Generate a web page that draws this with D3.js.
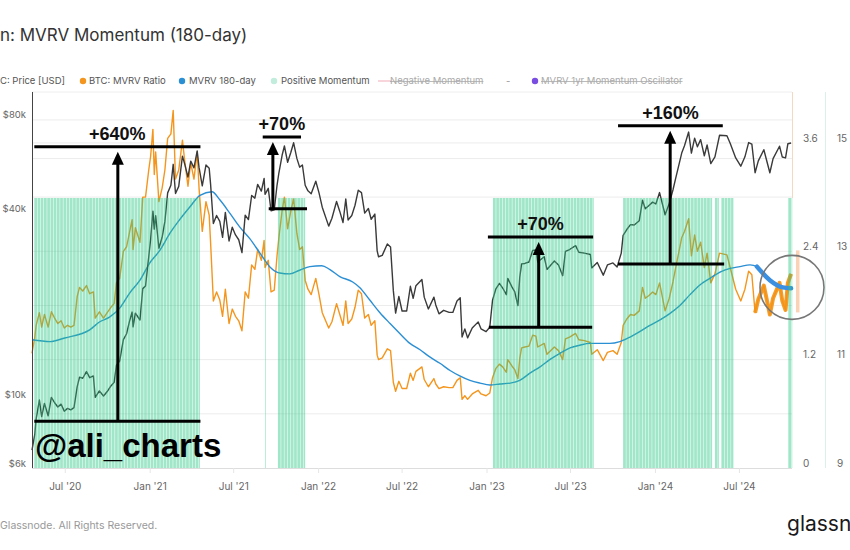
<!DOCTYPE html>
<html><head><meta charset="utf-8">
<script src="https://cdn.jsdelivr.net/npm/d3@7"></script>
<style>
body{margin:0;background:#fff;}
svg{display:block;font-family:Inter,"Noto Sans",sans-serif;}
</style>
</head><body>
<svg id="chart" width="850" height="550"></svg>
<script>
// ---------------- DATA ----------------
const seriesDates = [
"2020-04-21","2020-04-27","2020-04-30","2020-05-07","2020-05-12","2020-05-18","2020-05-26","2020-06-02","2020-06-09","2020-06-16",
"2020-06-23","2020-06-30","2020-07-07","2020-07-14","2020-07-21","2020-07-28","2020-08-02","2020-08-09","2020-08-17","2020-08-24",
"2020-09-01","2020-09-05","2020-09-14","2020-09-23","2020-10-01","2020-10-09","2020-10-16","2020-10-21","2020-10-28","2020-11-05",
"2020-11-12","2020-11-18","2020-11-24","2020-11-26","2020-12-01","2020-12-11","2020-12-17","2020-12-23","2020-12-30","2021-01-03",
"2021-01-08","2021-01-11","2021-01-14","2021-01-21","2021-01-28","2021-02-03","2021-02-09","2021-02-16","2021-02-21","2021-02-26",
"2021-03-05","2021-03-13","2021-03-18","2021-03-25","2021-03-31","2021-04-07","2021-04-14","2021-04-18","2021-04-25","2021-05-03",
"2021-05-10","2021-05-13","2021-05-19","2021-05-26","2021-06-02","2021-06-08","2021-06-14","2021-06-22","2021-06-29","2021-07-06",
"2021-07-13","2021-07-20","2021-07-27","2021-08-03","2021-08-10","2021-08-17","2021-08-23","2021-08-31","2021-09-06","2021-09-08",
"2021-09-15","2021-09-21","2021-09-28","2021-10-04","2021-10-08","2021-10-15","2021-10-20","2021-10-27","2021-11-03","2021-11-09",
"2021-11-16","2021-11-22","2021-11-28","2021-12-04","2021-12-10","2021-12-17","2021-12-27","2022-01-03","2022-01-10","2022-01-24",
"2022-01-31","2022-02-10","2022-02-17","2022-02-24","2022-03-02","2022-03-07","2022-03-15","2022-03-22","2022-03-29","2022-04-05",
"2022-04-12","2022-04-20","2022-04-26","2022-05-04","2022-05-09","2022-05-12","2022-05-20","2022-05-31","2022-06-07","2022-06-13",
"2022-06-18","2022-06-25","2022-07-02","2022-07-12","2022-07-20","2022-07-26","2022-08-01","2022-08-14","2022-08-19","2022-08-28",
"2022-09-09","2022-09-13","2022-09-20","2022-09-30","2022-10-12","2022-10-20","2022-10-29","2022-11-05","2022-11-09","2022-11-15",
"2022-11-21","2022-12-01","2022-12-14","2022-12-20","2022-12-31","2023-01-08","2023-01-14","2023-01-21","2023-01-29","2023-02-05",
"2023-02-13","2023-02-16","2023-02-25","2023-03-03","2023-03-10","2023-03-14","2023-03-18","2023-03-25","2023-04-03","2023-04-11",
"2023-04-18","2023-04-22","2023-05-06","2023-05-12","2023-05-28","2023-06-06","2023-06-15","2023-06-21","2023-06-30","2023-07-13",
"2023-07-20","2023-08-01","2023-08-14","2023-08-17","2023-08-29","2023-09-11","2023-09-20","2023-10-02","2023-10-11","2023-10-20",
"2023-10-24","2023-11-01","2023-11-09","2023-11-17","2023-11-28","2023-12-05","2023-12-11","2023-12-19","2023-12-27","2024-01-03",
"2024-01-11","2024-01-23","2024-02-01","2024-02-09","2024-02-15","2024-02-28","2024-03-05","2024-03-14","2024-03-20","2024-03-27",
"2024-04-02","2024-04-09","2024-04-17","2024-04-23","2024-05-01","2024-05-10","2024-05-20","2024-06-05","2024-06-12","2024-06-24",
"2024-07-05","2024-07-14","2024-07-22","2024-07-29","2024-08-05","2024-08-12","2024-08-24","2024-09-06","2024-09-13","2024-09-27",
"2024-10-03","2024-10-10","2024-10-15","2024-10-22"
];
const btcPrice = [
6850,7700,8650,9950,8800,9700,8850,10150,9750,9450,
9650,9150,9350,9250,9400,11000,11800,11700,12300,11750,
11900,10150,10650,10250,10600,11050,11350,12900,13300,15600,
16300,17800,19150,17150,19000,18050,22800,23250,28900,32800,
40600,35500,39200,30800,33400,37600,46500,49200,57500,46300,
48800,61100,57600,52300,58900,56000,63500,56200,49000,57200,
55800,49600,37000,39300,37600,33400,40200,32500,36000,34000,
32800,29800,39400,38100,45600,44700,49500,47100,51800,46000,
48100,40700,41000,49200,53900,61500,65900,58400,62900,67500,
60100,56300,57200,49200,47200,46200,50700,46500,41800,36300,
38500,43600,40500,37300,44400,38000,39300,42400,47400,46600,
40000,41400,38200,39700,30200,28900,29200,31800,31100,22500,
19000,21500,19300,19300,23200,21200,23300,24400,21400,19600,
21400,20200,18900,19400,19100,19100,20800,21300,15900,16900,
15800,17000,17800,16900,16550,17100,20900,22700,23700,22900,
21800,24600,23100,22300,20100,24800,27400,27500,27800,30300,
30400,27800,28900,26300,28000,27200,25100,30100,30500,31400,
29900,29700,29400,26600,27700,25200,27200,27600,26800,29700,
33900,35400,36700,36600,37800,44000,41300,42300,43400,42800,
46600,39500,43000,47500,51900,62500,66000,73100,62500,69900,
65500,69100,61300,66400,57800,60800,71400,71100,67300,60300,
56700,60800,67600,66800,54000,59000,64100,54000,60000,65800,
60700,60300,67000,67400
];
const mvrvRatio = [
1.27,1.45,1.58,1.72,1.56,1.70,1.56,1.73,1.66,1.60,
1.63,1.55,1.58,1.56,1.58,1.90,2.00,1.96,2.02,1.93,
1.95,1.66,1.73,1.66,1.72,1.78,1.82,2.05,2.10,2.40,
2.45,2.60,2.75,2.42,2.66,2.50,3.00,3.00,3.30,3.45,
3.75,3.25,3.50,2.95,3.10,3.30,3.65,3.70,3.96,3.20,
3.30,3.63,3.40,3.12,3.38,3.20,3.50,3.10,2.62,2.95,
2.80,2.50,1.85,1.95,1.86,1.68,1.98,1.60,1.76,1.68,
1.63,1.52,1.95,1.88,2.25,2.20,2.42,2.30,2.52,2.22,
2.30,1.95,1.97,2.35,2.55,2.85,3.00,2.65,2.85,2.98,
2.60,2.42,2.45,2.08,1.98,1.92,2.10,1.92,1.72,1.55,
1.62,1.82,1.70,1.58,1.85,1.60,1.65,1.78,1.97,1.93,
1.66,1.70,1.58,1.63,1.25,1.20,1.22,1.32,1.30,0.95,
0.85,0.96,0.88,0.88,1.05,0.97,1.07,1.12,0.98,0.90,
0.99,0.93,0.88,0.90,0.89,0.89,0.97,1.00,0.76,0.80,
0.76,0.82,0.86,0.82,0.80,0.83,1.00,1.10,1.15,1.12,
1.06,1.20,1.13,1.09,0.99,1.21,1.33,1.34,1.35,1.47,
1.46,1.34,1.38,1.26,1.34,1.30,1.20,1.43,1.45,1.49,
1.42,1.41,1.39,1.26,1.31,1.19,1.28,1.30,1.26,1.39,
1.58,1.65,1.70,1.69,1.74,2.00,1.88,1.91,1.95,1.92,
2.05,1.74,1.88,2.06,2.22,2.55,2.62,2.76,2.35,2.58,
2.40,2.50,2.22,2.38,2.05,2.15,2.38,2.36,2.22,1.98,
1.85,1.98,2.18,2.14,1.72,1.87,2.02,1.70,1.88,2.05,
1.85,1.75,2.05,2.15
];
const mvrv180Dates = [
"2020-04-21","2020-05-30","2020-07-01","2020-08-24","2020-09-15","2020-10-06","2020-10-28","2020-11-19","2020-12-11","2021-01-01",
"2021-01-23","2021-02-14","2021-03-07","2021-03-29","2021-04-20","2021-05-16","2021-06-02","2021-06-24","2021-07-15","2021-08-06",
"2021-08-28","2021-09-18","2021-10-10","2021-11-01","2021-11-22","2021-12-14","2022-01-09","2022-01-26","2022-02-17","2022-03-17",
"2022-04-01","2022-04-23","2022-05-15","2022-06-06","2022-06-27","2022-07-19","2022-08-10","2022-08-31","2022-09-22","2022-10-14",
"2022-11-04","2022-11-26","2022-12-18","2023-01-08","2023-01-30","2023-02-21","2023-03-14","2023-04-05","2023-04-27","2023-05-18",
"2023-06-09","2023-07-01","2023-07-22","2023-08-13","2023-09-25","2023-10-17","2023-11-08","2023-11-29","2023-12-21","2024-01-12",
"2024-02-02","2024-02-24","2024-03-17","2024-04-08","2024-04-29","2024-05-21","2024-06-12","2024-07-03","2024-07-25","2024-08-09",
"2024-09-06","2024-10-04","2024-10-22"
];
const mvrv180 = [
1.42,1.40,1.44,1.53,1.62,1.67,1.77,1.94,2.08,2.27,
2.41,2.60,2.75,2.89,3.02,3.06,2.97,2.82,2.67,2.54,
2.38,2.23,2.16,2.15,2.19,2.23,2.24,2.20,2.12,2.06,
2.00,1.86,1.72,1.60,1.49,1.38,1.31,1.23,1.16,1.08,
1.02,0.97,0.94,0.92,0.93,0.94,0.97,1.05,1.12,1.20,
1.27,1.33,1.36,1.38,1.38,1.40,1.45,1.51,1.58,1.64,
1.71,1.80,1.92,2.03,2.10,2.17,2.21,2.23,2.25,2.23,
2.08,2.00,1.99
];
// Positive momentum periods [start, end]
const positiveStart = ["2020-04-26","2021-09-08","2021-10-06","2023-01-15","2023-10-24","2024-05-10","2024-05-24","2024-10-16"];
const positiveEnd   = ["2021-04-21","2021-09-09","2021-12-05","2023-08-22","2024-05-05","2024-05-20","2024-06-20","2024-10-24"];
const momentumLevel = 2.99;   // flag height on the ratio axis

const xTickDates  = ["2020-07-01","2021-01-01","2021-07-01","2022-01-01","2022-07-01","2023-01-01","2023-07-01","2024-01-01","2024-07-01"];
const xTickLabels = ["Jul '20","Jan '21","Jul '21","Jan '22","Jul '22","Jan '23","Jul '23","Jan '24","Jul '24"];
const priceTicks = [6000, 10000, 40000, 80000];
const priceTickLabels = ["$6k","$10k","$40k","$80k"];
const ratioTicks = [0, 1.2, 2.4, 3.6];
const oscTicks = [9, 11, 13, 15];

// Annotations (gain brackets)
const gainLabels   = ["+640%","+70%","+70%","+160%"];
const gainTopStart = ["2020-04-26","2021-09-03","2023-01-04","2023-10-13"];
const gainTopEnd   = ["2021-04-21","2021-11-25","2023-08-20","2024-05-27"];
const gainTopPrice = [65500, 70500, 33500, 76600];
const gainBotStart = ["2020-04-26","2021-09-16","2023-01-06","2023-10-13"];
const gainBotEnd   = ["2021-04-21","2021-12-08","2023-08-18","2024-05-30"];
const gainBotPrice = [8500, 41300, 17100, 27400];
const gainArrow    = ["2020-10-24","2021-09-25","2023-04-24","2024-02-03"];

// ---------------- CHART ----------------
const parse = d3.utcParse("%Y-%m-%d");
const svg = d3.select("#chart");
const P = {left:32, right:792, top:92, bottom:468};

const x = d3.scaleUtc().domain([parse("2020-04-21"), parse("2024-10-24")]).range([P.left, P.right]);
const yPrice = d3.scaleLog().domain([6000, 98500]).range([P.bottom, P.top]);
const yRatio = d3.scaleLinear().domain([0, 4.164]).range([P.bottom, P.top]);
const yOsc = d3.scaleLinear().domain([9, 15.94]).range([P.bottom, P.top]);

const n = Math.min(seriesDates.length, btcPrice.length, mvrvRatio.length);
const rows = d3.range(n).map(i => ({d: parse(seriesDates[i]), p: btcPrice[i], m: mvrvRatio[i]}));
const rows180 = mvrv180Dates.map((s,i) => ({d: parse(s), v: mvrv180[i]}));

// Title
svg.append("text").attr("x",0).attr("y",35).attr("dy","0.35em")
  .attr("font-size",17).attr("fill","#333").text("n: MVRV Momentum (180-day)");

// Legend
const lg = svg.append("g").attr("font-size",9.5);
const ly = 81;
lg.append("text").attr("x",0).attr("y",ly).attr("dy","0.35em").attr("fill","#555").text("C: Price [USD]");
function legendDot(cx, color){ lg.append("circle").attr("cx",cx).attr("cy",ly).attr("r",3.2).attr("fill",color); }
function legendText(tx, txt, color, strike){
  const t = lg.append("text").attr("x",tx).attr("y",ly).attr("dy","0.35em").attr("fill",color).text(txt);
  if(strike){
    const w = t.node().getComputedTextLength();
    lg.append("line").attr("x1",tx).attr("x2",tx+w).attr("y1",ly+0.5).attr("y2",ly+0.5).attr("stroke",color).attr("stroke-width",0.8);
  }
}
legendDot(83,"#f4961e"); legendText(89,"BTC: MVRV Ratio","#555");
legendDot(182,"#2b8fd4"); legendText(189,"MVRV 180-day","#555");
legendDot(274,"#c2ecdb"); legendText(281,"Positive Momentum","#555");
lg.append("line").attr("x1",378).attr("x2",391).attr("y1",ly).attr("y2",ly).attr("stroke","#f2b9c2").attr("stroke-width",1.2);
legendText(390,"Negative Momentum","#aaa",true);
legendText(506,"-","#999");
legendDot(535,"#7a4de2"); legendText(541,"MVRV 1yr Momentum Oscillator","#aaa",true);

// Grid
const grid = svg.append("g").attr("stroke","#ececec").attr("stroke-width",1);
d3.range(1,7).map(k => k*0.6).forEach(v => {
  grid.append("line").attr("x1",P.left).attr("x2",P.right).attr("y1",yRatio(v)).attr("y2",yRatio(v));
});
[60000, 80000].forEach(v => {
  grid.append("line").attr("x1",P.left).attr("x2",P.right).attr("y1",yPrice(v)).attr("y2",yPrice(v));
});
// plot frame
svg.append("line").attr("x1",P.left).attr("x2",P.right).attr("y1",P.top).attr("y2",P.top).attr("stroke","#eee");
svg.append("line").attr("x1",825.5).attr("x2",825.5).attr("y1",P.top).attr("y2",P.bottom).attr("stroke","#dcefea");
svg.append("line").attr("x1",P.right+0.5).attr("x2",P.right+0.5).attr("y1",P.top).attr("y2",yRatio(momentumLevel)).attr("stroke","#f6d8c2");

// Lines
const linePrice = d3.line().x(d=>x(d.d)).y(d=>yPrice(d.p)).curve(d3.curveLinear);
const lineMvrv = d3.line().x(d=>x(d.d)).y(d=>yRatio(d.m));
const line180 = d3.line().x(d=>x(d.d)).y(d=>yRatio(d.v)).curve(d3.curveMonotoneX);

svg.append("path").datum(rows).attr("d",lineMvrv).attr("fill","none").attr("stroke","#f4961e").attr("stroke-width",1.4).attr("stroke-linejoin","round");
svg.append("path").datum(rows180).attr("d",line180).attr("fill","none").attr("stroke","#2b8fd4").attr("stroke-width",1.4);
svg.append("path").datum(rows).attr("d",linePrice).attr("fill","none").attr("stroke","#3a3a3a").attr("stroke-width",1.4).attr("stroke-linejoin","round");

// Highlight strokes inside circle
const hlStart = parse("2024-08-01");
svg.append("path").datum(rows.filter(r=>r.d>=hlStart)).attr("d",lineMvrv).attr("fill","none")
  .attr("stroke","#f39214").attr("stroke-width",4).attr("stroke-linejoin","round").attr("opacity",0.9);
svg.append("path").datum(rows180.filter(r=>r.d>=parse("2024-08-09"))).attr("d",line180).attr("fill","none")
  .attr("stroke","#3b8fe0").attr("stroke-width",4.5).attr("stroke-linecap","round");

// Positive momentum overlay bars
const gm = svg.append("g").attr("fill","#2cc785").attr("fill-opacity",0.45);
positiveStart.forEach((s,i) => {
  const s0 = parse(s), e0 = parse(positiveEnd[i]);
  let days = d3.utcDay.range(s0, e0, 7);
  if(days.length===0) days=[s0];
  days.forEach(d => {
    const x0 = x(d);
    const x1 = Math.min(x(d3.utcDay.offset(d,7)), x(e0));
    gm.append("rect").attr("x",x0).attr("y",yRatio(momentumLevel))
      .attr("width",Math.max(x1-x0-0.5,0.7)).attr("height",yRatio(0)-yRatio(momentumLevel));
  });
});

// Annotations
const ann = svg.append("g").attr("stroke","#000").attr("stroke-width",3);
gainLabels.forEach((lab,i) => {
  const tx0=x(parse(gainTopStart[i])), tx1=x(parse(gainTopEnd[i])), ty=yPrice(gainTopPrice[i]);
  const bx0=x(parse(gainBotStart[i])), bx1=x(parse(gainBotEnd[i])), by=yPrice(gainBotPrice[i]);
  const ax=x(parse(gainArrow[i]));
  ann.append("line").attr("x1",tx0).attr("x2",tx1).attr("y1",ty).attr("y2",ty);
  ann.append("line").attr("x1",bx0).attr("x2",bx1).attr("y1",by).attr("y2",by);
  const tip = ty+5;
  ann.append("line").attr("x1",ax).attr("x2",ax).attr("y1",by).attr("y2",tip+10);
  svg.append("path").attr("d",`M${ax},${tip} L${ax-6},${tip+13} L${ax+6},${tip+13} Z`).attr("fill","#000");
  svg.append("text").attr("x",(tx0+tx1)/2).attr("y",ty-13).attr("dy","0.35em").attr("text-anchor","middle")
    .attr("font-family","'Liberation Sans',Arial,sans-serif").attr("font-weight",700).attr("font-size",18).attr("fill","#111").text(lab);
});

// Circle highlight
const ccx = x(parse("2024-10-24")), ccy = yRatio(2.0);
svg.append("rect").attr("x",ccx+4).attr("y",ccy-37).attr("width",3.5).attr("height",62).attr("fill","#f6ad7a").attr("opacity",0.55);
svg.append("circle").attr("cx",ccx).attr("cy",ccy).attr("r",32).attr("fill","none").attr("stroke","#777").attr("stroke-width",1.6);

// Watermark
svg.append("text").attr("x",35).attr("y",457).attr("font-family","'Liberation Sans',Arial,sans-serif")
  .attr("font-weight",700).attr("font-size",33).attr("fill","#000").text("@ali_charts");

// Axes
svg.append("line").attr("x1",P.left+0.5).attr("x2",P.left+0.5).attr("y1",P.top).attr("y2",P.bottom).attr("stroke","#444");
svg.append("line").attr("x1",P.left).attr("x2",P.right).attr("y1",P.bottom+0.5).attr("y2",P.bottom+0.5).attr("stroke","#ddd");

function styleAxis(g, fs){
  g.select(".domain").remove();
  g.selectAll("text").attr("fill","#666").attr("font-size",fs||10).attr("font-family","Inter,'Noto Sans',sans-serif");
}
const axL = svg.append("g").attr("transform",`translate(${P.left},0)`)
  .call(d3.axisLeft(yPrice).tickValues(priceTicks).tickFormat((d,i)=>priceTickLabels[i]).tickSize(0).tickPadding(6));
styleAxis(axL, 9.5); axL.selectAll("text").attr("y",-5);
const axR = svg.append("g").attr("transform",`translate(${P.right},0)`)
  .call(d3.axisRight(yRatio).tickValues(ratioTicks).tickFormat(d3.format(".1~f")).tickSize(0).tickPadding(11));
styleAxis(axR); axR.selectAll("text").attr("y",-5);
const axO = svg.append("g").attr("transform",`translate(825,0)`)
  .call(d3.axisRight(yOsc).tickValues(oscTicks).tickFormat(d3.format("d")).tickSize(0).tickPadding(12));
styleAxis(axO); axO.selectAll("text").attr("y",-5);
const axB = svg.append("g").attr("transform",`translate(0,${P.bottom})`)
  .call(d3.axisBottom(x).tickValues(xTickDates.map(parse)).tickFormat((d,i)=>xTickLabels[i]).tickSize(5).tickPadding(10));
styleAxis(axB); axB.selectAll("line").attr("stroke","#e6e6e6");

// Footer
svg.append("text").attr("x",0).attr("y",525).attr("dy","0.35em").attr("font-size",10.5).attr("fill","#999")
  .text("Glassnode. All Rights Reserved.");
svg.append("text").attr("x",787).attr("y",531).attr("font-size",21).attr("font-weight",400).attr("fill","#1a1a1a")
  .text("glassn");
</script>
</body></html>
